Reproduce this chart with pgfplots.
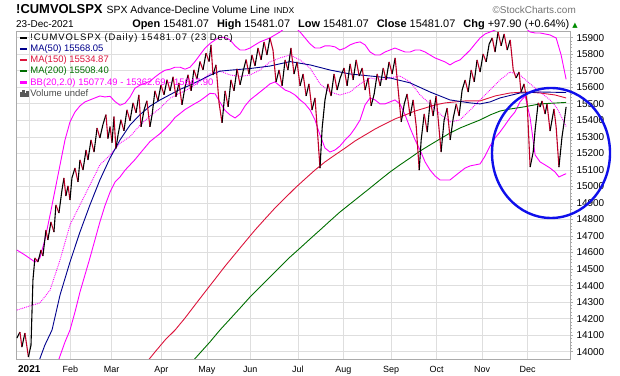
\documentclass[border=0pt]{standalone}
\usepackage{pgfplots}
\pgfplotsset{compat=1.18}
\usepackage{pgfplotstable}
\usepackage{fontspec}
\setmainfont{Liberation Sans}
\newfontfamily\dejavu{DejaVu Sans}
\newfontfamily\widesans[LetterSpace=10]{Liberation Sans}
\definecolor{maBlue}{RGB}{0,0,140}
\definecolor{maRed}{RGB}{220,20,60}
\definecolor{maGreen}{RGB}{0,110,0}
\definecolor{bbMag}{RGB}{255,0,255}
\definecolor{gridc}{RGB}{222,222,222}
\definecolor{framec}{RGB}{170,170,170}
\definecolor{downRed}{RGB}{190,0,40}
\definecolor{circBlue}{RGB}{15,15,235}
\definecolor{upGreen}{RGB}{0,140,0}

\pgfplotstableread{
x y c
-5.7 14083 0
-4.3 14119 1
-3.4 14028 0
-2.0 14113 1
-0.4 13968 0
0.8 14040 0
1.7 14434 0
2.6 14567 1
4.0 14543 0
5.4 14615 1
6.3 14579 0
7.7 14736 1
8.6 14676 0
10.0 14785 1
11.4 14724 0
12.3 14888 1
13.7 14839 0
15.1 14978 0
16.0 15051 1
16.9 14942 0
17.9 15003 1
18.8 14918 0
19.7 15051 0
21.1 15111 1
22.5 15027 0
23.4 15160 1
24.8 15099 0
26.2 15220 1
27.1 15160 0
28.5 15281 1
29.9 15208 0
31.3 15353 1
32.6 15293 0
34.0 15374 0
35.4 15434 1
36.3 15289 0
37.3 15362 1
38.2 15265 0
39.1 15422 1
40.0 15229 0
41.0 15313 0
42.3 15403 1
43.7 15336 0
45.1 15463 1
46.5 15397 0
47.9 15505 1
49.3 15445 0
50.6 15554 1
51.6 15360 0
53.0 15463 0
54.3 15518 1
55.7 15360 0
56.7 15433 0
58.0 15578 1
59.4 15518 0
60.8 15614 1
62.2 15554 0
63.6 15645 1
65.0 15578 0
66.4 15663 1
67.7 15542 0
69.1 15626 1
70.5 15493 0
71.9 15602 0
73.3 15675 1
74.7 15578 0
76.0 15705 1
77.4 15649 0
78.8 15755 1
80.2 15705 0
81.6 15806 1
83.0 15755 0
83.9 15856 1
84.8 15674 0
86.2 15735 1
87.6 15505 1
89.0 15384 0
90.4 15578 1
91.8 15481 0
93.1 15644 1
94.5 15578 0
95.9 15711 1
97.3 15614 0
98.7 15696 0
100.1 15767 1
101.4 15680 0
102.8 15795 1
104.2 15729 0
105.6 15837 1
107.0 15765 0
108.4 15874 1
109.7 15795 0
111.1 15898 1
112.5 15825 1
113.9 15632 0
115.3 15704 1
116.7 15608 0
118.1 15765 1
119.4 15704 0
120.8 15837 1
122.2 15680 0
123.6 15753 1
125.0 15608 0
126.4 15680 1
127.8 15547 0
129.1 15620 1
130.5 15462 0
131.9 15535 1
133.3 15281 1
134.2 15111 0
135.2 15353 0
136.5 15523 0
137.9 15620 1
139.3 15547 0
140.7 15680 1
142.1 15583 0
143.5 15656 0
145.3 15716 1
146.7 15608 0
148.1 15741 1
149.5 15644 0
150.9 15765 1
152.3 15668 0
153.7 15716 1
155.0 15583 0
156.4 15656 1
157.8 15487 0
159.2 15559 0
160.6 15680 1
162.0 15608 0
163.4 15716 1
164.7 15644 0
166.1 15753 1
167.5 15680 0
168.9 15777 1
170.3 15583 1
171.7 15390 0
173.1 15499 0
174.4 15559 1
175.8 15426 0
177.2 15523 1
178.6 15366 1
180.0 15099 0
180.9 15281 0
182.3 15438 1
183.7 15329 0
185.1 15523 1
186.4 15426 0
187.8 15547 1
189.2 15341 1
190.1 15208 0
191.5 15402 0
192.9 15474 1
194.3 15281 0
195.7 15414 0
197.1 15499 1
198.4 15426 0
199.8 15583 0
201.2 15644 1
202.6 15571 0
204.0 15704 1
205.4 15632 0
206.7 15765 1
208.1 15692 0
209.5 15801 1
210.9 15753 0
212.3 15862 0
213.7 15898 1
215.0 15813 0
216.4 15934 1
217.8 15850 0
219.2 15922 1
220.6 15825 0
222.0 15886 1
223.4 15704 1
224.7 15656 0
226.1 15692 1
227.0 15571 0
228.4 15620 1
229.8 15511 1
231.2 15117 0
232.6 15208 0
233.5 15341 0
234.9 15505 1
235.8 15480 0
236.7 15517 1
238.1 15438 0
239.0 15499 1
240.4 15335 0
241.3 15402 0
242.2 15468 1
243.2 15359 1
244.5 15117 0
245.9 15299 0
246.9 15390 0
247.8 15481 0
}\price

\pgfplotstableread{
x y
4.0 13926
7.2 14040
10.5 14131
14.2 14343
18.8 14543
23.4 14724
28.0 14888
32.6 15039
37.3 15172
41.9 15281
46.5 15371
51.1 15434
55.7 15485
60.4 15523
65.0 15555
69.6 15587
74.2 15612
78.8 15642
83.4 15672
88.0 15697
92.7 15703
101.9 15713
111.1 15728
120.4 15755
129.6 15735
138.8 15704
148.1 15680
157.3 15668
166.5 15656
175.8 15626
185.0 15571
194.2 15523
203.5 15505
208.1 15499
212.7 15511
217.3 15535
226.5 15565
235.8 15571
247.8 15568
}\maFifty

\pgfplotstableread{
x y
54.3 13938
58.0 13998
62.7 14071
67.3 14131
71.9 14204
76.5 14283
81.1 14361
85.8 14440
90.4 14518
95.0 14591
99.6 14664
104.2 14736
108.8 14803
113.4 14869
118.1 14930
122.7 14990
127.3 15045
131.9 15099
136.5 15148
141.1 15190
145.8 15232
150.4 15275
155.0 15311
159.6 15347
164.2 15378
168.8 15408
173.5 15432
178.1 15456
182.7 15474
187.3 15493
191.9 15505
196.5 15511
201.2 15517
208.1 15517
215.0 15547
221.9 15565
228.9 15571
235.8 15565
242.7 15553
247.8 15535
}\maOneFifty

\pgfplotstableread{
x y
75.1 13938
78.8 13992
83.4 14059
88.0 14131
92.7 14198
97.3 14264
101.9 14331
106.5 14391
111.1 14452
115.7 14512
120.4 14573
125.0 14627
129.6 14682
134.2 14736
138.8 14791
143.4 14845
148.1 14894
152.7 14942
157.3 14990
161.9 15039
166.5 15087
171.1 15130
175.8 15172
180.4 15214
185.0 15251
189.6 15287
194.2 15323
198.8 15353
203.5 15378
208.1 15402
212.7 15432
217.3 15456
221.9 15468
227.9 15480
235.8 15499
247.8 15508
}\maTwoHundred

\pgfplotstableread{
x y
-5.7 14252
0.3 14277
4.9 14295
9.6 14373
14.2 14555
18.8 14767
23.4 14888
28.0 15008
32.6 15130
37.3 15190
41.9 15261
46.5 15301
51.1 15370
55.7 15425
60.4 15473
65.0 15534
69.6 15564
74.2 15594
78.8 15636
83.4 15683
88.0 15697
92.7 15674
97.3 15665
101.9 15674
106.5 15704
111.1 15753
115.7 15777
120.4 15795
125.0 15765
129.6 15716
134.2 15620
138.8 15571
143.4 15553
148.1 15571
152.7 15620
157.3 15656
161.9 15644
166.5 15656
171.1 15668
175.8 15632
180.4 15553
185.0 15499
189.6 15438
194.2 15390
198.8 15402
203.5 15462
208.1 15523
212.7 15583
217.3 15644
221.9 15692
226.5 15674
231.2 15620
235.8 15571
240.4 15523
243.6 15474
247.8 15363
}\bbMid

\pgfplotstableread{
x y
-5.7 14615
-2.0 14585
2.6 14543
4.9 14567
7.2 14676
9.6 14827
11.9 14978
14.2 15130
16.5 15281
18.8 15390
21.1 15450
23.4 15487
25.7 15511
28.0 15523
30.3 15535
32.6 15547
34.9 15541
37.3 15545
39.6 15513
41.9 15491
44.2 15503
46.5 15540
48.8 15594
51.1 15612
53.4 15624
55.7 15636
58.0 15661
60.4 15685
62.7 15703
65.0 15709
67.3 15721
69.6 15721
71.9 15709
74.2 15721
76.5 15755
78.8 15796
81.1 15836
83.4 15864
85.8 15886
88.0 15902
90.4 15900
92.7 15886
95.0 15850
97.3 15825
99.6 15825
101.9 15837
104.2 15856
106.5 15874
108.8 15886
111.1 15898
113.4 15916
115.7 15934
118.1 15958
120.4 15976
122.7 15964
125.0 15934
127.3 15898
129.6 15862
131.9 15837
134.2 15837
136.5 15850
138.8 15850
141.1 15844
143.4 15825
145.8 15837
148.1 15856
150.4 15868
152.7 15874
155.0 15856
157.3 15813
159.6 15795
161.9 15795
164.2 15813
166.5 15825
168.8 15837
171.1 15825
173.5 15813
175.8 15813
178.1 15825
180.4 15825
182.7 15813
185.0 15795
187.3 15777
189.6 15765
191.9 15753
194.2 15735
196.5 15753
198.8 15765
201.2 15795
203.5 15825
205.8 15862
208.1 15898
210.4 15922
212.7 15934
215.0 15946
217.3 15971
219.6 15995
221.9 16019
224.2 16007
226.5 15983
228.9 15958
231.2 15934
233.5 15928
235.8 15928
238.1 15922
240.4 15916
243.2 15898
245.5 15795
247.8 15648
}\bbUp

\pgfplotstableread{
x y
12.8 13920
13.7 13956
16.5 14059
18.8 14131
21.1 14240
23.4 14361
25.7 14464
28.0 14567
30.3 14676
32.6 14785
34.9 14882
37.3 14966
39.6 15027
41.9 15057
44.2 15098
46.5 15130
48.8 15162
51.1 15199
53.4 15235
55.7 15271
58.0 15295
60.4 15320
62.7 15350
65.0 15380
67.3 15417
69.6 15441
71.9 15465
74.2 15483
76.5 15501
78.8 15518
81.1 15540
83.4 15563
85.8 15560
88.0 15510
90.4 15459
92.7 15432
95.0 15414
97.3 15438
99.6 15487
101.9 15523
104.2 15547
106.5 15571
108.8 15595
111.1 15620
113.4 15632
115.7 15608
118.1 15583
120.4 15571
122.7 15553
125.0 15523
127.3 15499
129.6 15462
131.9 15402
134.2 15311
136.5 15232
138.8 15208
141.1 15220
143.4 15244
145.8 15281
148.1 15311
150.4 15353
152.7 15402
155.0 15493
157.3 15535
159.6 15523
161.9 15499
164.2 15499
166.5 15511
168.8 15523
171.1 15499
173.5 15432
175.8 15353
178.1 15281
180.4 15220
182.7 15148
185.0 15099
187.3 15063
189.6 15039
191.9 15039
194.2 15039
196.5 15063
198.8 15087
201.2 15111
203.5 15124
205.8 15130
208.1 15136
210.4 15184
212.7 15244
215.0 15293
217.3 15329
219.6 15371
221.9 15414
224.2 15450
226.5 15511
228.9 15547
231.2 15414
233.5 15190
235.8 15148
238.1 15130
240.4 15111
242.7 15087
244.5 15057
246.4 15069
247.8 15077
}\bbLow

\begin{document}
\begin{tikzpicture}
\path[use as bounding box] (0,0) rectangle (620bp,376bp);
\begin{axis}[
  at={(16.7bp,17bp)}, anchor=south west,
  scale only axis, width=553.3bp, height=328bp,
  xmin=-5.8, xmax=249.6, ymin=13956, ymax=15940,
  axis line style={framec, line width=0.8bp},
  grid=major, major grid style={gridc, line width=0.6bp},
  xtick={0,19,38,61,82,102,124,145,167,188,209,230},
  xticklabels={{\fontsize{10}{12}\selectfont\bfseries 2021},Feb,Mar,Apr,May,Jun,Jul,Aug,Sep,Oct,Nov,Dec},
  xtick pos=left, xtick style={draw=none},
  xticklabel style={font=\fontsize{9}{11}\selectfont, yshift=-0.5bp},
  ytick={14000,14100,...,15900},
  scaled y ticks=false,
  ytick pos=right, yticklabel pos=right,
  minor y tick num=4,
  tick align=outside,
  major tick length=3bp, minor tick length=2bp,
  ytick style={framec, line width=0.5bp},
  yticklabel style={font=\fontsize{10}{12}\selectfont, anchor=west,
    /pgf/number format/fixed, /pgf/number format/precision=0,
    /pgf/number format/1000 sep={}},
  /pgf/number format/1000 sep={},
  /pgf/number format/assume math mode=true,
  colormap={updown}{color=(black) color=(downRed)},
  point meta min=0, point meta max=1,
  legend style={at={(0,1)}, anchor=north west, draw=none, fill=none,
    inner xsep=2bp, inner ysep=0.5bp, row sep=-1.2bp,
    font=\fontsize{9.5}{10.5}\selectfont},
  legend cell align=left,
  legend image code/.code={\draw[#1, line width=2.2bp] (0bp,0bp) -- (7bp,0bp);},
]
\addlegendimage{black}
\addlegendentry{{\widesans !CUMVOLSPX (Daily) 15481.07 (23 Dec)}}
\addlegendimage{maBlue}
\addlegendentry{\textcolor{maBlue}{MA(50) 15568.05}}
\addlegendimage{maRed}
\addlegendentry{\textcolor{maRed}{MA(150) 15534.87}}
\addlegendimage{maGreen}
\addlegendentry{\textcolor{maGreen}{MA(200) 15508.40}}
\addlegendimage{bbMag}
\addlegendentry{\textcolor{bbMag}{BB(20,2.0) 15077.49 - 15362.69 - 15647.90}}
\addlegendimage{legend image code/.code={
  \fill[black!65] (0bp,-3bp) rectangle (1.6bp,1bp);
  \fill[black!65] (2.2bp,-3bp) rectangle (3.8bp,3bp);
  \fill[black!65] (4.4bp,-3bp) rectangle (6bp,0bp);
  \fill[black!65] (6.6bp,-3bp) rectangle (8.2bp,2bp);}}
\addlegendentry{\textcolor{black!70}{Volume undef}}

\addplot[bbMag, line width=0.9bp, forget plot] table[x=x,y=y] {\bbUp};
\addplot[bbMag, line width=0.9bp, forget plot] table[x=x,y=y] {\bbLow};
\addplot[bbMag, line width=0.9bp, densely dotted, forget plot] table[x=x,y=y] {\bbMid};
\addplot[maGreen, line width=0.9bp, forget plot] table[x=x,y=y] {\maTwoHundred};
\addplot[maRed, line width=0.9bp, forget plot] table[x=x,y=y] {\maOneFifty};
\addplot[maBlue, line width=0.9bp, forget plot] table[x=x,y=y] {\maFifty};
\addplot[mesh, shader=flat corner, point meta=explicit, line width=1.1bp, forget plot] table[x=x,y=y,meta=c] {\price};
\end{axis}

\node[anchor=base west, inner sep=0pt] at (16bp,362.5bp)
  {{\fontsize{13}{15}\selectfont\bfseries !CUMVOLSPX}\hspace{4bp}{\fontsize{10.5}{12}\selectfont SPX Advance-Decline Volume Line}\hspace{4bp}{\fontsize{8.5}{10}\selectfont INDX}};
\node[anchor=base east, inner sep=0pt, text=black!55] at (576bp,362.5bp)
  {\fontsize{10}{12}\selectfont \textcopyright StockCharts.com};
\node[anchor=base west, inner sep=0pt] at (16bp,348bp)
  {\fontsize{10}{12}\selectfont 23-Dec-2021};
\node[anchor=base east, inner sep=0pt] at (578bp,348bp)
  {\fontsize{11}{13}\selectfont \textbf{Open} 15481.07\hspace{8bp}\textbf{High} 15481.07\hspace{8bp}\textbf{Low} 15481.07\hspace{8bp}\textbf{Close} 15481.07\hspace{8bp}\textbf{Chg} +97.90 (+0.64\%) {\dejavu\fontsize{7}{8}\selectfont\textcolor{upGreen}{▲}}};

\draw[circBlue, line width=2.4bp] (551bp,223bp) ellipse [x radius=59bp, y radius=65bp];
\end{tikzpicture}
\end{document}
